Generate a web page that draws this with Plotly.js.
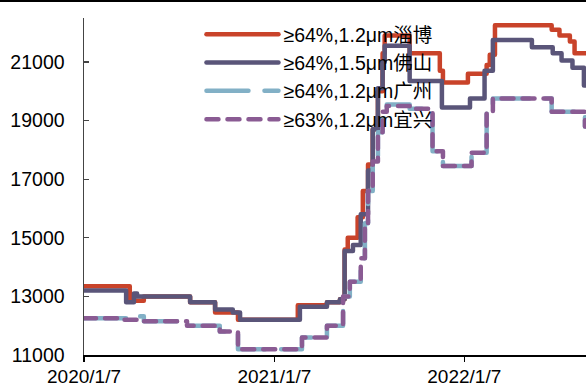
<!DOCTYPE html>
<html>
<head>
<meta charset="utf-8">
<script src="https://cdn.plot.ly/plotly-3.0.1.min.js"></script>
<style>
html,body{margin:0;padding:0;background:#fff;}
#chart{width:586px;height:387px;position:relative;}
.js-line{stroke-linecap:round;stroke-linejoin:round;}
#topline{position:absolute;left:0;top:0;width:586px;height:2px;background:#000;z-index:10;}
</style>
</head>
<body>
<div id="chart"></div>
<div id="topline"></div>
<script>
// Series names
const seriesNames = ['≥64%,1.2μm淄博', '≥64%,1.5μm佛山', '≥64%,1.2μm广州', '≥63%,1.2μm宜兴'];

// 淄博 (step changes)
const ziboDates = ['2020-01-07','2020-04-04','2020-05-01','2020-07-29','2020-09-15','2020-10-29','2021-02-21','2021-04-18','2021-05-13','2021-05-22','2021-05-28','2021-06-16','2021-06-26','2021-07-06','2021-07-15','2021-07-25','2021-08-03','2021-08-07','2021-09-24','2021-11-21','2021-11-27','2022-01-14','2022-02-19','2022-02-25','2022-03-07','2022-06-24','2022-07-09','2022-07-29','2022-08-07','2022-09-05'];
const ziboValues = [13350,12850,13000,12800,12450,12200,12700,12800,12900,14600,15000,15700,16600,17500,18700,20000,21300,21900,21300,20700,20300,20600,20900,21250,22250,22100,21900,21700,21300,21300];

// 佛山
const foshanDates = ['2020-01-07','2020-03-28','2020-04-12','2020-04-18','2020-07-29','2020-09-15','2020-10-19','2020-11-02','2021-02-25','2021-04-18','2021-05-13','2021-05-22','2021-06-07','2021-06-22','2021-07-06','2021-07-15','2021-07-25','2021-08-03','2021-08-07','2021-09-24','2021-11-25','2022-01-18','2022-02-15','2022-03-03','2022-05-17','2022-06-26','2022-07-13','2022-08-03','2022-08-25','2022-09-05'];
const foshanValues = [13200,12800,13100,13000,12800,12550,12450,12200,12650,12800,12900,14550,14750,15800,17300,18700,20100,21000,21550,20350,19450,19750,20700,21750,21500,21300,21050,20800,20200,20200];

// 广州
const guangzhouDates = ['2020-01-07','2020-04-24','2020-05-01','2020-07-23','2020-09-24','2020-10-29','2021-03-01','2021-04-18','2021-05-19','2021-06-01','2021-06-22','2021-06-30','2021-07-06','2021-07-15','2021-07-25','2021-08-03','2021-08-11','2021-09-24','2021-11-07','2021-11-27','2022-01-21','2022-02-19','2022-03-03','2022-06-24','2022-08-27','2022-09-05'];
const guangzhouValues = [12250,12320,12150,12000,11800,11200,11600,12000,13000,13500,14300,15500,16600,17600,18600,19300,19550,19400,17950,17450,17900,19250,19750,19300,18800,18800];

// 宜兴
const yixingDates = ['2020-01-07','2020-03-20','2020-04-24','2020-07-23','2020-09-24','2020-10-29','2021-03-01','2021-04-18','2021-05-19','2021-06-01','2021-06-22','2021-06-30','2021-07-06','2021-07-15','2021-07-25','2021-08-03','2021-08-11','2021-09-24','2021-11-07','2021-11-27','2022-01-21','2022-02-19','2022-03-03','2022-06-24','2022-08-27','2022-09-05'];
const yixingValues = [12250,12200,12150,12000,11800,11200,11600,12000,13000,13500,14300,15500,16600,17600,18600,19300,19500,19400,17950,17450,17900,19250,19750,19300,18800,18800];

// Axis ticks
const xTickVals = ['2020-01-07','2021-01-07','2022-01-07'];
const xTickText = ['2020/1/7','2021/1/7','2022/1/7'];
const yTickVals = [11000,13000,15000,17000,19000,21000];

const FONT = 'Liberation Sans, Arial, Noto Sans CJK SC, sans-serif';

const traces = [
  {x: ziboDates, y: ziboValues, name: seriesNames[0], mode:'lines', line:{shape:'hv', color:'#C9432A', width:4.5}},
  {x: foshanDates, y: foshanValues, name: seriesNames[1], mode:'lines', line:{shape:'hv', color:'#5A5579', width:4.5}},
  {x: guangzhouDates, y: guangzhouValues, name: seriesNames[2], mode:'lines', line:{shape:'hv', color:'#82B0C6', width:4.5, dash:'42px,16px'}},
  {x: yixingDates, y: yixingValues, name: seriesNames[3], mode:'lines', line:{shape:'hv', color:'#8A5B93', width:4.5, dash:'12px,9px'}}
];

const layout = {
  width:586, height:387,
  margin:{l:84, r:0, t:18, b:32, pad:0},
  paper_bgcolor:'#fff', plot_bgcolor:'#fff',
  font:{family:FONT, size:19.5, color:'#000'},
  showlegend:true,
  legend:{x:0.234, y:1.009, xanchor:'left', yanchor:'top', bgcolor:'rgba(0,0,0,0)', borderwidth:0,
          font:{family:FONT, size:19.5, color:'#000'}, itemwidth:72, tracegroupgap:0},
  xaxis:{type:'date', range:['2020-01-07','2022-08-29'], tickvals:xTickVals, ticktext:xTickText,
         showgrid:false, zeroline:false, showline:true, linecolor:'#000', linewidth:1.5,
         ticks:'outside', ticklen:5, tickwidth:1.2, tickcolor:'#000', ticklabelstandoff:-1,
         tickfont:{family:FONT, size:19, color:'#000'}},
  yaxis:{range:[11000,22500], tickvals:yTickVals, tickformat:'d', showgrid:false, zeroline:false, showline:true,
         linecolor:'#444', linewidth:1.5, ticks:'inside', ticklen:5, tickwidth:1.2, tickcolor:'#444',
         ticklabelstandoff:14, tickfont:{family:FONT, size:19.5, color:'#000'}}
};

Plotly.newPlot('chart', traces, layout, {displayModeBar:false, staticPlot:true});
</script>
</body>
</html>
